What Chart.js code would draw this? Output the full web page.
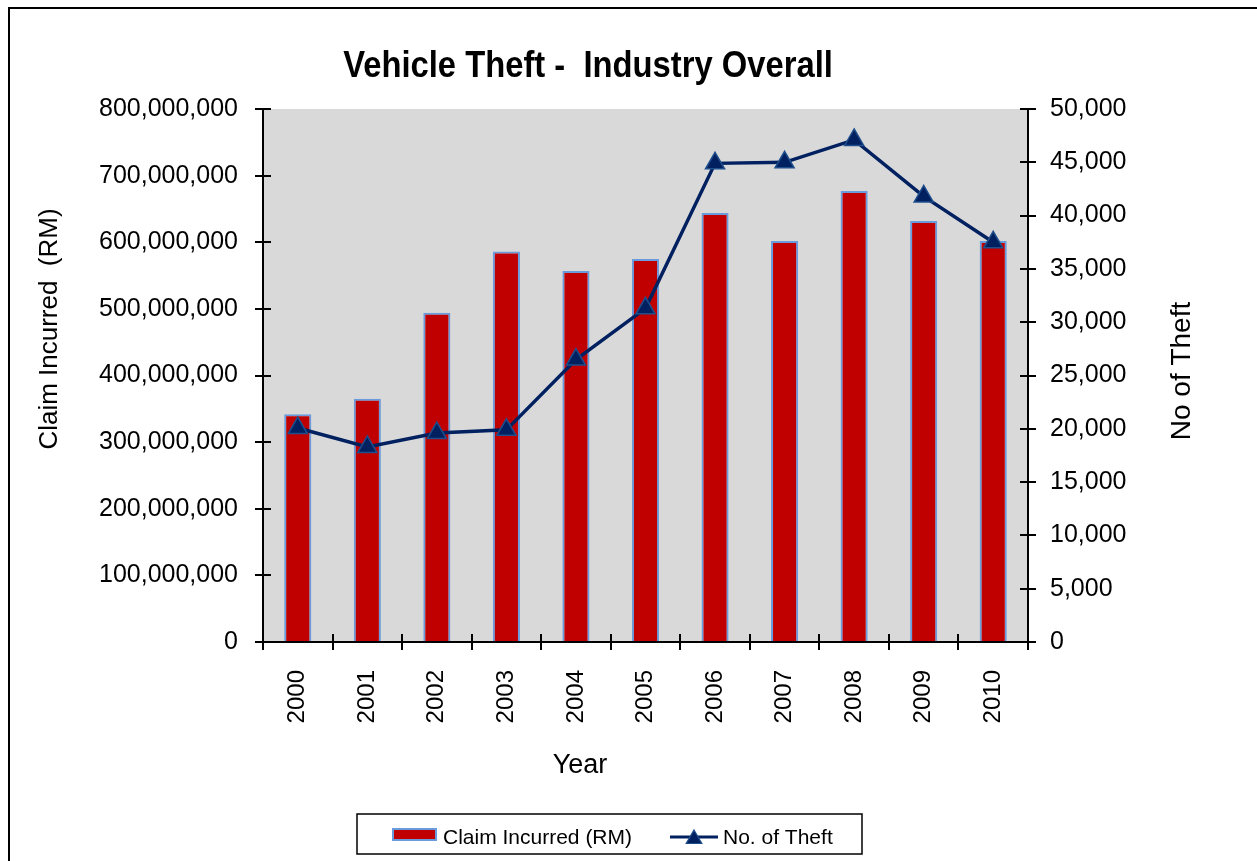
<!DOCTYPE html>
<html>
<head>
<meta charset="utf-8">
<script src="https://cdn.jsdelivr.net/npm/chart.js@4.4.0/dist/chart.umd.min.js"></script>
<style>
  html, body { margin: 0; padding: 0; background: #fff; overflow: hidden; }
  #wrap { position: relative; width: 1257px; height: 861px; }
  #frame { position: absolute; left: 8px; top: 7px; width: 1400px; height: 1000px; border: 2px solid #000; box-sizing: border-box; pointer-events: none; }
  canvas { position: absolute; left: 0; top: 0; }
</style>
</head>
<body>
<div id="wrap">
  <canvas id="c" width="1257" height="861"></canvas>
  <div id="frame"></div>
</div>
<script>
const years = ['2000','2001','2002','2003','2004','2005','2006','2007','2008','2009','2010'];
const claimIncurred = [342000000, 365000000, 494000000, 586000000, 557000000, 575000000, 644000000, 602000000, 677000000, 632000000, 602000000];
const noOfTheft = [20070, 18300, 19600, 19900, 26500, 31300, 44900, 45000, 47100, 41800, 37500];
const leftTicks = [0, 100000000, 200000000, 300000000, 400000000, 500000000, 600000000, 700000000, 800000000];
const rightTicks = [0, 5000, 10000, 15000, 20000, 25000, 30000, 35000, 40000, 45000, 50000];
const chartTitle = 'Vehicle Theft -  Industry Overall';
const leftTitle = 'Claim Incurred  (RM)';
const rightTitle = 'No of Theft';
const xTitle = 'Year';
const seriesNames = ['Claim Incurred (RM)', 'No. of Theft'];

const FONT = '"Liberation Sans", Arial, Helvetica, sans-serif';
const BAR_FILL = '#C00000';
const BAR_EDGE = '#6A9BDD';
const LINE_COL = '#002060';
const MARK_EDGE = '#1F4E8C';

function fmt(v) { return String(Math.round(v)).replace(/\B(?=(\d{3})+(?!\d))/g, ','); }

const decor = {
  id: 'decor',
  beforeDraw(chart) {
    const {ctx, chartArea: a} = chart;
    ctx.save();
    ctx.fillStyle = '#D9D9D9';
    ctx.fillRect(a.left, a.top, a.right - a.left, a.bottom - a.top);
    ctx.restore();
  },
  afterDraw(chart) {
    const {ctx, chartArea: a, scales} = chart;
    ctx.save();
    // inner halves of the crossing tick marks
    ctx.strokeStyle = '#000';
    ctx.lineWidth = 2;
    const L = 8;
    ctx.beginPath();
    scales.y.ticks.forEach(t => {
      const y = Math.round(scales.y.getPixelForValue(t.value));
      ctx.moveTo(a.left, y); ctx.lineTo(a.left + L, y);
    });
    scales.y1.ticks.forEach(t => {
      const y = Math.round(scales.y1.getPixelForValue(t.value));
      ctx.moveTo(a.right, y); ctx.lineTo(a.right - L, y);
    });
    const n = years.length;
    for (let i = 0; i <= n; i++) {
      let x;
      if (i === 0) x = a.left;
      else if (i === n) x = a.right;
      else x = (scales.x.getPixelForValue(i - 1) + scales.x.getPixelForValue(i)) / 2;
      x = Math.round(x);
      ctx.moveTo(x, a.bottom); ctx.lineTo(x, a.bottom - L);
    }
    ctx.stroke();

    ctx.fillStyle = '#000';
    // chart title (slightly condensed like the original)
    ctx.save();
    ctx.translate(588, 77);
    ctx.scale(0.91, 1);
    ctx.font = 'bold 36px ' + FONT;
    ctx.textAlign = 'center';
    ctx.textBaseline = 'alphabetic';
    ctx.fillText(chartTitle, 0, 0);
    ctx.restore();
    ctx.textAlign = 'center';
    ctx.textBaseline = 'alphabetic';
    // x title
    ctx.font = '27px ' + FONT;
    ctx.fillText(xTitle, 580, 773);
    // left title
    ctx.save();
    ctx.translate(57, 329);
    ctx.rotate(-Math.PI / 2);
    ctx.font = '26px ' + FONT;
    ctx.fillText(leftTitle, 0, 0);
    ctx.restore();
    // right title
    ctx.save();
    ctx.translate(1190, 371);
    ctx.rotate(-Math.PI / 2);
    ctx.font = '28px ' + FONT;
    ctx.fillText(rightTitle, 0, 0);
    ctx.restore();

    // legend
    ctx.lineWidth = 1.5;
    ctx.strokeStyle = '#000';
    ctx.fillStyle = '#fff';
    ctx.fillRect(357, 814, 505, 40);
    ctx.strokeRect(357, 814, 505, 40);
    const ds0 = chart.data.datasets[0], ds1 = chart.data.datasets[1];
    ctx.fillStyle = ds0.borderColor;
    ctx.fillRect(392, 828, 45, 13);
    ctx.fillStyle = ds0.backgroundColor;
    ctx.fillRect(394, 830, 41, 9);
    ctx.fillStyle = '#000';
    ctx.font = '21px ' + FONT;
    ctx.textAlign = 'left';
    ctx.fillText(ds0.label, 443, 844);
    ctx.strokeStyle = ds1.borderColor;
    ctx.lineWidth = 3;
    ctx.beginPath(); ctx.moveTo(670, 837); ctx.lineTo(718, 837); ctx.stroke();
    const r = 9;
    const cy = 839;
    ctx.beginPath();
    ctx.moveTo(694, cy - r);
    ctx.lineTo(694 + r * Math.sin(Math.PI * 2 / 3), cy - r * Math.cos(Math.PI * 2 / 3));
    ctx.lineTo(694 - r * Math.sin(Math.PI * 2 / 3), cy - r * Math.cos(Math.PI * 2 / 3));
    ctx.closePath();
    ctx.fillStyle = LINE_COL; ctx.fill();
    ctx.lineWidth = 1.2; ctx.strokeStyle = MARK_EDGE; ctx.stroke();
    ctx.fillStyle = '#000';
    ctx.fillText(ds1.label, 723, 844);
    ctx.restore();
  }
};

new Chart(document.getElementById('c'), {
  type: 'bar',
  data: {
    labels: years,
    datasets: [
      {
        type: 'bar',
        label: seriesNames[0],
        data: claimIncurred,
        yAxisID: 'y',
        backgroundColor: BAR_FILL,
        borderColor: BAR_EDGE,
        borderWidth: 2,
        borderSkipped: 'start',
        categoryPercentage: 1.0,
        barPercentage: 0.39,
        order: 2
      },
      {
        type: 'line',
        label: seriesNames[1],
        data: noOfTheft,
        yAxisID: 'y1',
        borderColor: LINE_COL,
        borderWidth: 3.5,
        tension: 0,
        pointStyle: 'triangle',
        pointRadius: 11,
        pointBackgroundColor: LINE_COL,
        pointBorderColor: MARK_EDGE,
        pointBorderWidth: 1.5,
        order: 1
      }
    ]
  },
  options: {
    responsive: false,
    animation: false,
    devicePixelRatio: 1,
    layout: { padding: { top: 109, left: 0, right: 0, bottom: 0 } },
    plugins: { legend: { display: false }, title: { display: false }, tooltip: { enabled: false } },
    scales: {
      x: {
        offset: true,
        grid: { offset: true, drawOnChartArea: false, drawTicks: true, tickLength: 8, color: '#000', lineWidth: 2 },
        border: { display: true, color: '#000', width: 2 },
        ticks: { minRotation: 90, maxRotation: 90, autoSkip: false, padding: 20, color: '#000', font: { family: FONT, size: 24 } },
        afterFit(s) { s.height = 219; }
      },
      y: {
        position: 'left',
        min: 0, max: 800000000,
        afterBuildTicks(s) { s.ticks = leftTicks.map(v => ({ value: v })); },
        grid: { drawOnChartArea: false, drawTicks: true, tickLength: 8, color: '#000', lineWidth: 2 },
        border: { display: true, color: '#000', width: 2 },
        ticks: { padding: 17, color: '#000', font: { family: FONT, size: 25 }, callback: v => fmt(v) },
        afterFit(s) { s.width = 263; }
      },
      y1: {
        position: 'right',
        min: 0, max: 50000,
        afterBuildTicks(s) { s.ticks = rightTicks.map(v => ({ value: v })); },
        grid: { drawOnChartArea: false, drawTicks: true, tickLength: 8, color: '#000', lineWidth: 2 },
        border: { display: true, color: '#000', width: 2 },
        ticks: { padding: 14, color: '#000', font: { family: FONT, size: 25 }, callback: v => fmt(v) },
        afterFit(s) { s.width = 229; }
      }
    }
  },
  plugins: [decor]
});
</script>
</body>
</html>
